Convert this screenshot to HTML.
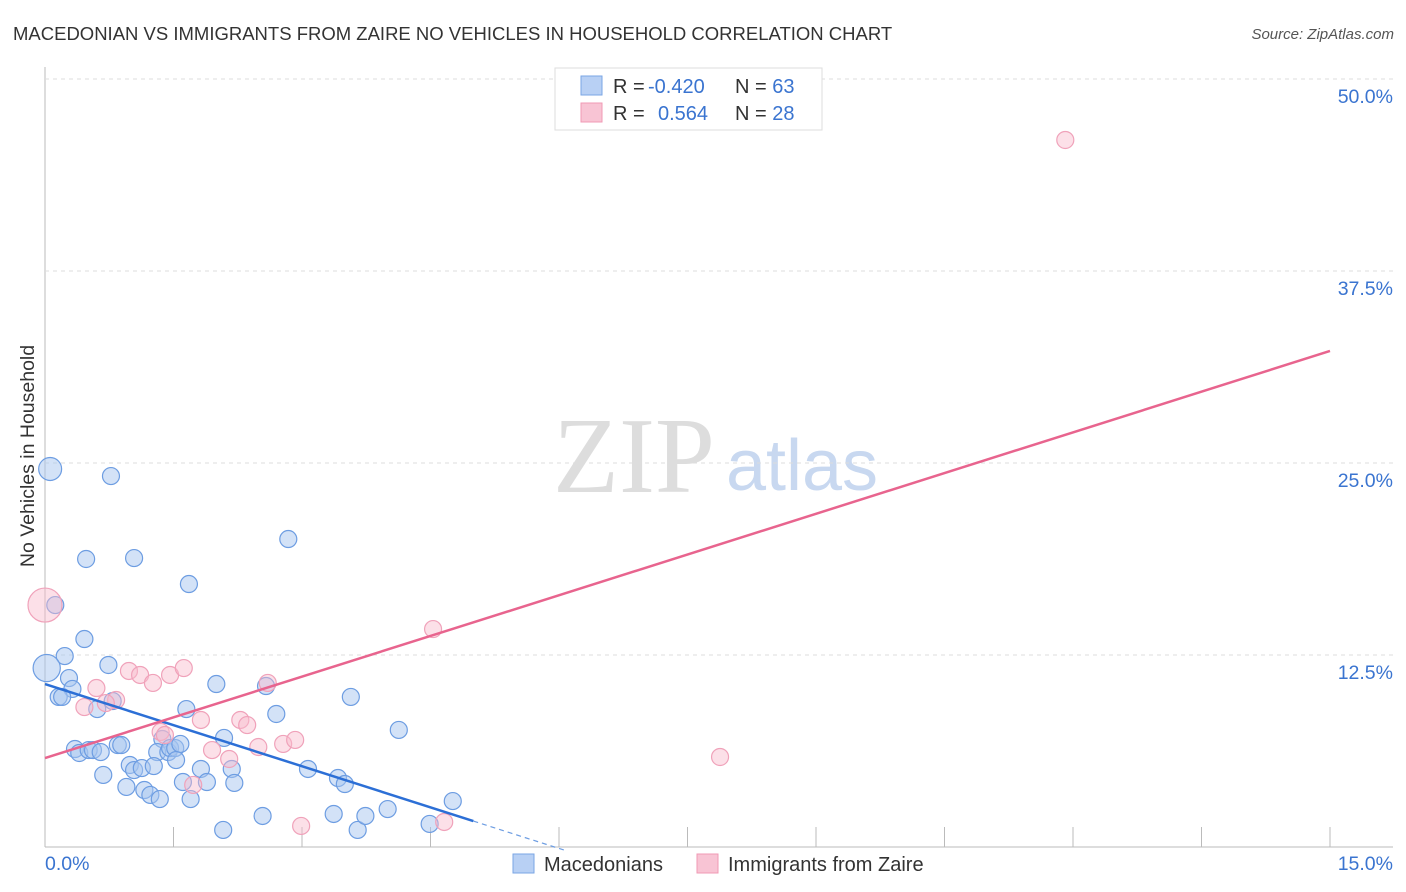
<!DOCTYPE html>
<html><head><meta charset="utf-8"><style>
body{margin:0;background:#fff;font-family:"Liberation Sans",sans-serif;}
svg{display:block}
</style></head><body>
<svg id="c" width="1406" height="892">
<text x="13" y="40" font-size="18.5" fill="#333">MACEDONIAN VS IMMIGRANTS FROM ZAIRE NO VEHICLES IN HOUSEHOLD CORRELATION CHART</text>
<text x="1394" y="39" font-size="15" fill="#555" font-style="italic" text-anchor="end">Source: ZipAtlas.com</text>
<text x="634" y="492" font-size="108" fill="#ddd" font-family="Liberation Serif,serif" text-anchor="middle">ZIP</text>
<text x="802" y="490" font-size="72" fill="#c8d8f0" text-anchor="middle">atlas</text>
<text transform="translate(34,456) rotate(-90)" font-size="19.5" fill="#333" text-anchor="middle">No Vehicles in Household</text>
<g id="grid"></g><g id="pts"></g><g id="lines"></g>
<g>
<rect x="555" y="68" width="267" height="62" fill="#fff" stroke="#ddd"/>
<rect x="581" y="76" width="21" height="19" fill="#b8d0f4" stroke="#7aa6e4"/>
<rect x="581" y="103" width="21" height="19" fill="#f8c4d4" stroke="#f09ab4"/>
<text x="613" y="93" font-size="20" fill="#333">R = <tspan x="648" fill="#3a74d0">-0.420</tspan><tspan x="735">N = </tspan><tspan fill="#3a74d0">63</tspan></text>
<text x="613" y="120" font-size="20" fill="#333">R = <tspan x="658" fill="#3a74d0">0.564</tspan><tspan x="735">N = </tspan><tspan fill="#3a74d0">28</tspan></text>
</g>
<g>
<rect x="513" y="854" width="21" height="19" fill="#b8d0f4" stroke="#7aa6e4"/>
<text x="544" y="871" font-size="20" fill="#333">Macedonians</text>
<rect x="697" y="854" width="21" height="19" fill="#f8c4d4" stroke="#f09ab4"/>
<text x="728" y="871" font-size="20" fill="#333">Immigrants from Zaire</text>
</g>
</svg>
<script>
const yTicks=[12.5,25,37.5,50];
const yTickLabels=["12.5%","25.0%","37.5%","50.0%"];
const xEndLabels=["0.0%","15.0%"];
const blueX=[0.06,0.77,0.48,1.04,1.68,2.84,0.12,0.46,0.23,0.02,0.74,0.28,0.32,0.16,0.20,0.61,0.79,2.00,2.58,3.57,2.70,4.13,1.65,2.09,0.35,0.40,0.51,0.56,0.65,0.85,0.89,1.37,1.31,1.44,1.46,1.52,1.58,1.53,0.99,1.04,1.13,1.27,0.68,0.95,1.16,1.23,1.34,1.61,1.70,1.82,1.89,2.18,2.21,3.07,3.42,3.50,2.08,2.54,3.37,3.65,3.74,4.00,4.76,4.49];
const blueY=[24.61,24.15,18.75,18.81,17.12,20.05,15.75,13.54,12.43,11.65,11.85,11.00,10.29,9.77,9.77,8.98,9.50,10.61,10.48,9.77,8.66,7.62,8.98,7.10,6.38,6.12,6.31,6.31,6.18,6.64,6.64,7.03,6.18,6.18,6.44,6.44,6.71,5.66,5.34,5.01,5.14,5.27,4.69,3.91,3.71,3.39,3.12,4.23,3.12,5.08,4.23,5.08,4.17,5.08,4.49,4.10,1.11,2.02,2.15,1.11,2.02,2.47,2.99,1.50];
const blueSize=[1.35,1,1,1,1,1,1,1,1,1.6,1,1,1,1,1,1,1,1,1,1,1,1,1,1,1,1,1,1,1,1,1,1,1,1,1,1,1,1,1,1,1,1,1,1,1,1,1,1,1,1,1,1,1,1,1,1,1,1,1,1,1,1,1,1];
const pinkX=[11.91,0.00,4.53,0.98,1.11,1.26,1.46,1.62,0.60,0.83,0.71,0.46,2.60,1.82,2.28,2.36,1.35,1.95,2.78,2.92,2.49,2.15,1.73,7.88,2.99,4.66,1.40];
const pinkY=[46.03,15.75,14.19,11.46,11.20,10.68,11.20,11.65,10.35,9.57,9.37,9.11,10.68,8.27,8.27,7.94,7.49,6.31,6.71,6.97,6.51,5.73,4.04,5.86,1.37,1.63,7.29];
const pinkSize=[1,2,1,1,1,1,1,1,1,1,1,1,1,1,1,1,1,1,1,1,1,1,1,1,1,1,1];
const blueFit=[10.61,-1.784,5.0,6.1];
const pinkFit=[5.79,1.767,15];
const NS="http://www.w3.org/2000/svg";
const X0=45,X1=1330,Y0=847,YTOP=79;
const sx=v=>X0+(v/15)*(X1-X0);
const sy=v=>Y0-(v/50)*(Y0-YTOP);
function mk(t,a,p){const e=document.createElementNS(NS,t);for(const k in a)e.setAttribute(k,a[k]);p.appendChild(e);return e;}
const grid=document.getElementById('grid');
mk('line',{x1:X0,y1:67,x2:X0,y2:Y0,stroke:'#bbb'},grid);
mk('line',{x1:X0,y1:Y0,x2:1393,y2:Y0,stroke:'#bbb'},grid);
yTicks.forEach((t,i)=>{
 const g=mk('line',{x1:X0,y1:sy(t),x2:1393,y2:sy(t),stroke:'#ddd','stroke-dasharray':'4,4'},grid);
 
 
 const tx=mk('text',{x:1393,y:sy(t)+24,'font-size':19.5,fill:'#3a74d0','text-anchor':'end'},grid);
 tx.textContent=yTickLabels[i];
 
 
});
for(let i=1;i<=10;i++){
 const xv=i*1.5;
 const tk=mk('line',{x1:sx(xv),y1:827,x2:sx(xv),y2:Y0,stroke:'#bbb'},grid);
 
 
}
const xl0=mk('text',{x:45,y:870,'font-size':19.5,fill:'#3a74d0'},grid);xl0.textContent=xEndLabels[0];


const xl1=mk('text',{x:1393,y:870,'font-size':19.5,fill:'#3a74d0','text-anchor':'end'},grid);xl1.textContent=xEndLabels[1];


const pts=document.getElementById('pts');
blueX.forEach((x,i)=>{
 const c=mk('circle',{cx:sx(x),cy:sy(blueY[i]),r:8.5*blueSize[i],fill:'rgba(168,198,240,0.5)',stroke:'#6d9de2','stroke-width':1.2},pts);
 
 
});
pinkX.forEach((x,i)=>{
 const c=mk('circle',{cx:sx(x),cy:sy(pinkY[i]),r:8.5*pinkSize[i],fill:'rgba(248,186,204,0.45)',stroke:'#f0a2ba','stroke-width':1.2},pts);
 
 
});
const lines=document.getElementById('lines');
const bl=mk('line',{x1:sx(0),y1:sy(blueFit[0]),x2:sx(blueFit[2]),y2:sy(blueFit[0]+blueFit[1]*blueFit[2]),stroke:'#2c6fd6','stroke-width':2.5},lines);


const bd=mk('line',{x1:sx(blueFit[2]),y1:sy(blueFit[0]+blueFit[1]*blueFit[2]),x2:sx(blueFit[3]),y2:sy(blueFit[0]+blueFit[1]*blueFit[3]),stroke:'#6d9de2','stroke-width':1.2,'stroke-dasharray':'5,4'},lines);


const pl=mk('line',{x1:sx(0),y1:sy(pinkFit[0]),x2:sx(pinkFit[2]),y2:sy(pinkFit[0]+pinkFit[1]*pinkFit[2]),stroke:'#e8648e','stroke-width':2.5},lines);


</script>
</body></html>
